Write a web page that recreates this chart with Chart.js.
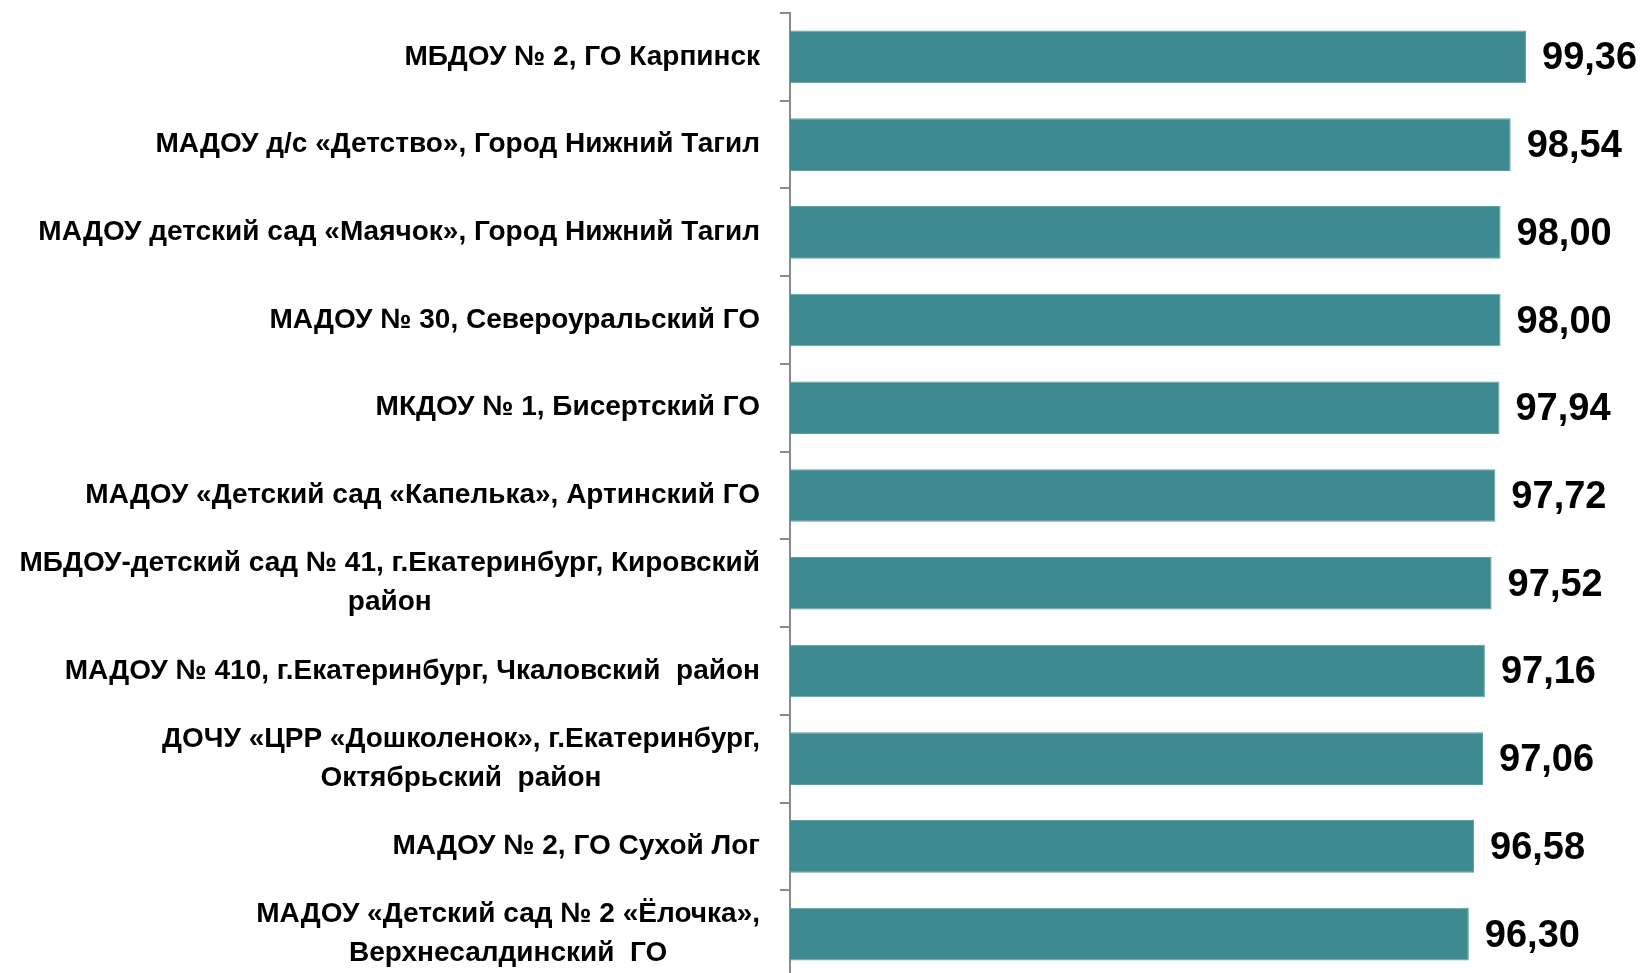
<!DOCTYPE html>
<html lang="ru">
<head>
<meta charset="utf-8">
<title>Рейтинг ДОУ</title>
<script src="https://cdn.jsdelivr.net/npm/chart.js@4/dist/chart.umd.min.js"></script>
<style>
  html, body { margin: 0; padding: 0; background: #fff; overflow: hidden; }
  #wrap { position: relative; width: 1643px; height: 990px; }
</style>
</head>
<body>
<div id="wrap"><canvas id="rating-chart"></canvas></div>
<script>
const orgLabels = [
  "МБДОУ № 2, ГО Карпинск",
  "МАДОУ д/с «Детство», Город Нижний Тагил",
  "МАДОУ детский сад «Маячок», Город Нижний Тагил",
  "МАДОУ № 30, Североуральский ГО",
  "МКДОУ № 1, Бисертский ГО",
  "МАДОУ «Детский сад «Капелька», Артинский ГО",
  ["МБДОУ-детский сад № 41, г.Екатеринбург, Кировский", "район"],
  "МАДОУ № 410, г.Екатеринбург, Чкаловский  район",
  ["ДОЧУ «ЦРР «Дошколенок», г.Екатеринбург,", "Октябрьский  район"],
  "МАДОУ № 2, ГО Сухой Лог",
  ["МАДОУ «Детский сад № 2 «Ёлочка»,", "Верхнесалдинский  ГО"]
];

const scores = [99.36, 98.54, 98.00, 98.00, 97.94, 97.72, 97.52, 97.16, 97.06, 96.58, 96.30];

const axisMin = 60;
const axisMax = 100;

document.addEventListener("DOMContentLoaded", function () {
  const canvas = document.getElementById("rating-chart");
  const labelFont = "bold 28px 'Liberation Sans', Arial, sans-serif";
  const valueFont = "bold 38px 'Liberation Sans', Arial, sans-serif";

  function formatValue(v) {
    return v.toFixed(2).replace(".", ",");
  }

  // category labels: block right-aligned, lines centred inside the block
  const categoryLabels = {
    id: "categoryLabels",
    afterDraw(chart) {
      const ctx = chart.ctx;
      const yScale = chart.scales.y;
      const right = yScale.right - 30;
      const lineH = 39;

      ctx.save();
      ctx.font = labelFont;
      ctx.fillStyle = "#000";
      ctx.textAlign = "center";
      ctx.textBaseline = "middle";

      orgLabels.forEach((label, i) => {
        const lines = Array.isArray(label) ? label : [label];
        const widest = Math.max(...lines.map(l => ctx.measureText(l).width));
        const cx = right - widest / 2;
        const cy = yScale.getPixelForTick(i);
        let y = cy - (lines.length - 1) * lineH / 2;
        lines.forEach(line => {
          ctx.fillText(line, cx, y);
          y += lineH;
        });
      });
      ctx.restore();
    }
  };

  const valueLabels = {
    id: "valueLabels",
    afterDatasetsDraw(chart) {
      const ctx = chart.ctx;
      const meta = chart.getDatasetMeta(0);

      ctx.save();
      ctx.font = valueFont;
      ctx.fillStyle = "#000";
      ctx.textAlign = "left";
      ctx.textBaseline = "middle";
      meta.data.forEach((bar, i) => {
        ctx.fillText(formatValue(scores[i]), bar.x + 16, bar.y + 2);
      });
      ctx.restore();
    }
  };

  new Chart(canvas, {
    type: "bar",
    data: {
      labels: orgLabels,
      datasets: [
        {
          data: scores,
          backgroundColor: "#3d8b90",
          borderColor: "#5f9fa3",
          borderWidth: 1,
          categoryPercentage: 1,
          barPercentage: 0.6
        }
      ]
    },
    options: {
      indexAxis: "y",
      responsive: true,
      maintainAspectRatio: false,
      animation: false,
      layout: {
        padding: { top: 13, bottom: 12, left: 0, right: 105 }
      },
      scales: {
        x: {
          display: false,
          min: axisMin,
          max: axisMax
        },
        y: {
          afterFit: scale => {
            scale.width = 790;
          },
          ticks: { display: false },
          grid: {
            offset: true,
            drawOnChartArea: false,
            drawTicks: true,
            tickLength: 10,
            color: "#8a8a8a",
            lineWidth: 2
          },
          border: {
            display: true,
            color: "#8a8a8a",
            width: 2
          }
        }
      },
      plugins: {
        legend: { display: false },
        tooltip: { enabled: false }
      }
    },
    plugins: [categoryLabels, valueLabels]
  });
});
</script>
</body>
</html>
